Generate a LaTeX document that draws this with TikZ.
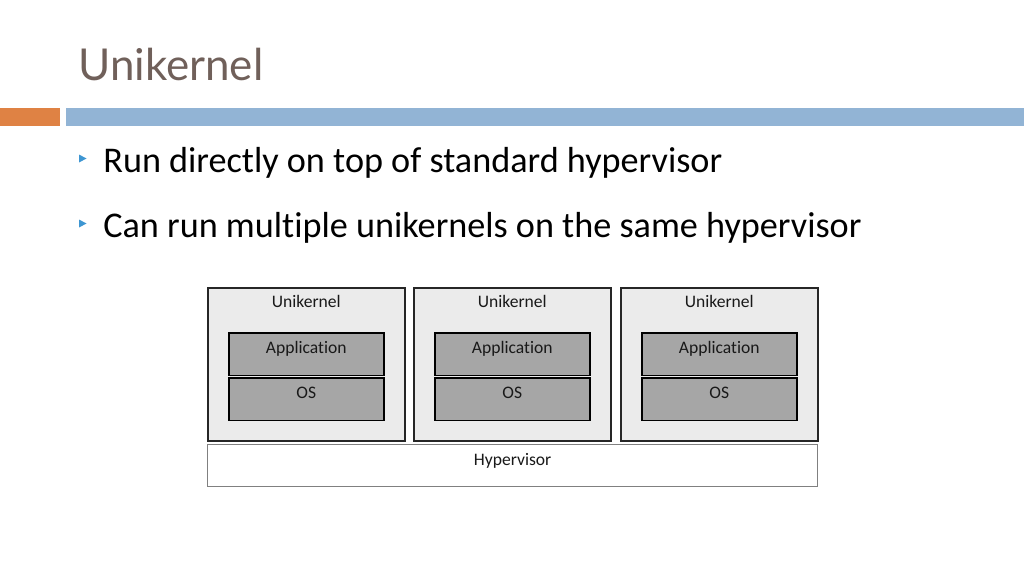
\documentclass[tikz,border=0pt]{standalone}
\usepackage{fontspec}
\setmainfont{Carlito}[Ligatures=NoCommon]
\newfontfamily\titlefont{Lato}
\usepackage{tikz}
\usetikzlibrary{positioning}

\definecolor{titlebrown}{RGB}{112,96,90}
\definecolor{barorange}{RGB}{223,130,68}
\definecolor{barblue}{RGB}{146,180,213}
\definecolor{bulletblue}{RGB}{62,150,210}
\definecolor{ukfill}{RGB}{235,235,235}
\definecolor{layerfill}{RGB}{166,166,166}

\tikzset{
	ukbox/.style={draw=black!85, line width=0.9pt, fill=ukfill, rectangle, inner sep=0pt, anchor=north west, minimum width=3.94cm, minimum height=3.06cm},
	layer/.style={draw=black, line width=0.9pt, fill=layerfill, rectangle, inner sep=0pt, anchor=north west, minimum width=3.1cm, minimum height=0.85cm},
	lbl/.style={inner sep=0pt, font=\fontsize{10}{12}\selectfont, text=black!90},
	bullettext/.style={anchor=base west, inner sep=0pt, font=\fontsize{20.6}{25}\selectfont}
}

\begin{document}
\begin{tikzpicture}[x=0.02cm, y=-0.02cm]
				\useasboundingbox (0,0) rectangle (1024,576);
				
				% Title and bars
				\node (title) [anchor=base west, inner sep=0pt, text=titlebrown, font=\titlefont\fontsize{25}{30}\selectfont] at (78,80) {Unikernel};
				\fill[barorange] (0,108) rectangle (60,126);
				\fill[barblue] (66,108) rectangle (1024,126);
				
				% Bullets
				\fill[bulletblue] (79,154.5) -- (86.5,158.5) -- (79,162.5) -- cycle;
				\node (point1) [bullettext] at (103,172) {Run directly on top of standard hypervisor};
				\fill[bulletblue] (79,219.5) -- (86.5,223.5) -- (79,227.5) -- cycle;
				\node (point2) [bullettext] at (103,237) {Can run multiple unikernels on the same hypervisor};
				
				% Unikernels
				\node (uk1) [ukbox] at (207,287) {};
				\node (uk2) [ukbox] at (413,287) {};
				\node (uk3) [ukbox] at (620,287) {};
				\node (uk1lbl) [lbl, below=4.5pt of uk1.north] {Unikernel};
				\node (uk2lbl) [lbl, below=4.5pt of uk2.north] {Unikernel};
				\node (uk3lbl) [lbl, below=4.5pt of uk3.north] {Unikernel};
				
				\node (app1) [layer] at (228,332) {};
				\node (app2) [layer] at (434,332) {};
				\node (app3) [layer] at (641,332) {};
				\node (app1lbl) [lbl, below=5pt of app1.north] {Application};
				\node (app2lbl) [lbl, below=5pt of app2.north] {Application};
				\node (app3lbl) [lbl, below=5pt of app3.north] {Application};
				
				\node (os1) [layer] at (228,377) {};
				\node (os2) [layer] at (434,377) {};
				\node (os3) [layer] at (641,377) {};
				\node (os1lbl) [lbl, below=5.5pt of os1.north] {OS};
				\node (os2lbl) [lbl, below=5.5pt of os2.north] {OS};
				\node (os3lbl) [lbl, below=5.5pt of os3.north] {OS};
				
				% Hypervisor
				\node (hyp) [draw=black!50, line width=0.8pt, fill=white, rectangle, inner sep=0pt, anchor=north west, minimum width=12.2cm, minimum height=0.84cm] at (207,444) {};
				\node (hyplbl) [lbl, below=5pt of hyp.north] {Hypervisor};
				
			\end{tikzpicture}
\end{document}
